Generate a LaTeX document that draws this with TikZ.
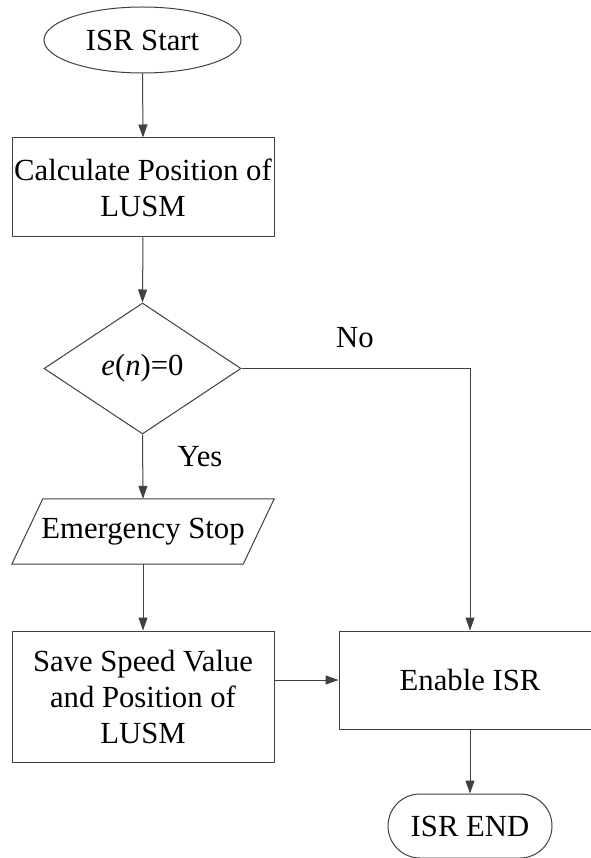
\documentclass[tikz,border=0pt]{standalone}
\usepackage{fontspec}
\setmainfont{Liberation Serif}
\usetikzlibrary{shapes.geometric,arrows.meta,calc}
\begin{document}
\begin{tikzpicture}[x=1pt,y=-1pt,
  every node/.style={font=\fontsize{30.7}{36}\selectfont, inner sep=0pt, align=center},
  line/.style={draw=black!75, line width=1pt},
  arr/.style={line, -{Triangle[length=13pt,width=9pt]}},
  boxnode/.style={line, rectangle},
  lbl/.style={font=\fontsize{30.7}{36}\selectfont}
]
\useasboundingbox (0,0) rectangle (590,858);
\fill[white] (0,0) rectangle (590,858);

\node[line, ellipse, minimum width=197pt, minimum height=66pt] (start) at (142.5,40) {ISR Start};
\node[boxnode, minimum width=262pt, minimum height=99pt] (calc) at (143,187.5) {Calculate Position of\\LUSM};
\node[line, diamond, minimum width=197pt, minimum height=131pt] (dec) at (142.5,368.5) {\textit{e}(\textit{n})=0};
\node[minimum width=262pt, minimum height=65pt] (emer) at (143,531.5) {Emergency Stop};
\draw[line] ($(emer.north west)+(31,0)$) -- (emer.north east) -- ($(emer.south east)+(-31,0)$) -- (emer.south west) -- cycle;
\node[boxnode, minimum width=262pt, minimum height=131pt] (save) at (143,696.5) {Save Speed Value\\and Position of\\LUSM};
\node[boxnode, minimum width=262pt, minimum height=98pt] (enable) at (470,680) {Enable ISR};
\node[line, rectangle, rounded corners=32pt, minimum width=164pt, minimum height=64pt] (end) at (470,826) {ISR END};

\node[lbl] (yes) at (200,457) {Yes};
\node[lbl] (no) at (355,338) {No};

\draw[arr] (start.south) -- (calc.north);
\draw[arr] (calc.south) -- (dec.north);
\draw[arr] (dec.south) -- (emer.north);
\draw[arr] (dec.east) -| (enable.north);
\draw[arr] (emer.south) -- (save.north);
\draw[arr] (enable.west -| save.east) -- (enable.west);
\draw[arr] (enable.south) -- (end.north);
\end{tikzpicture}
\end{document}
